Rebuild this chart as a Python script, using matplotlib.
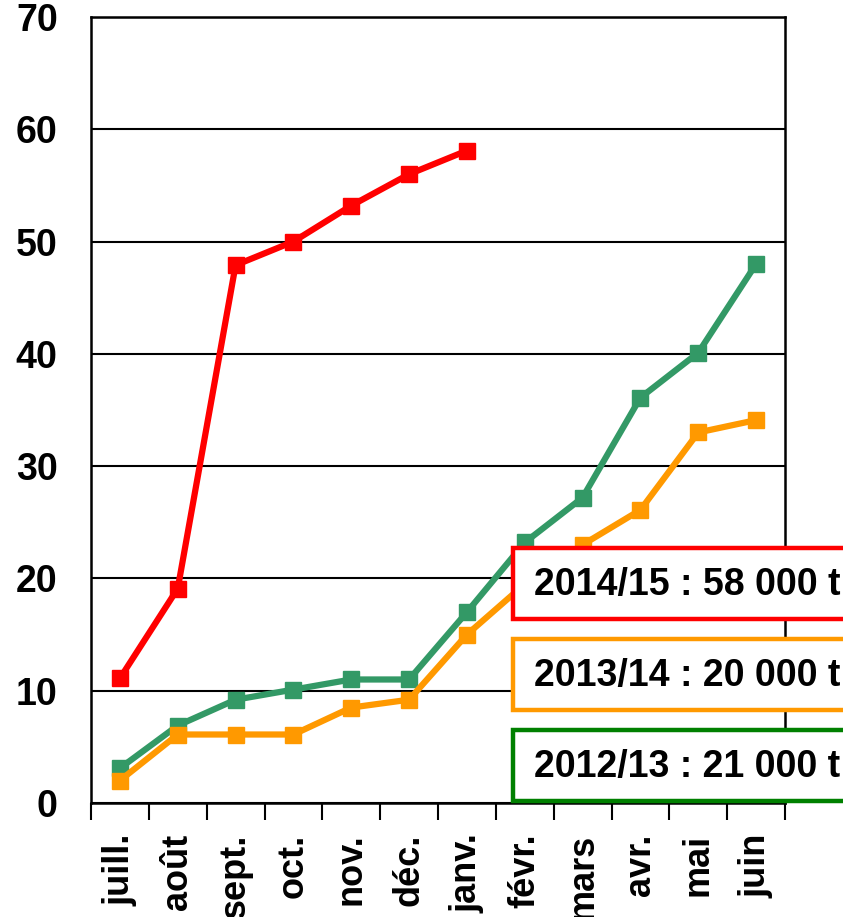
import matplotlib.pyplot as plt
from matplotlib.patches import Rectangle

plt.rcParams["font.family"] = ["Liberation Sans", "DejaVu Sans"]
plt.rcParams["font.weight"] = "bold"

MONTHS = ["juill.", "août", "sept.", "oct.", "nov.", "déc.", "janv.",
          "févr.", "mars", "avr.", "mai", "juin"]

SERIES_2014 = [11.1, 19.1, 47.9, 50.0, 53.2, 56.0, 58.1]
SERIES_2013 = [2.0, 6.1, 6.1, 6.1, 8.5, 9.2, 15.0, 19.5, 23.0, 26.1, 33.0, 34.1]
SERIES_2012 = [3.1, 6.9, 9.2, 10.1, 11.0, 11.0, 17.0, 23.2, 27.2, 36.1, 40.1, 48.0]

BOX_LABELS = ["2014/15 : 58 000 t", "2013/14 : 20 000 t", "2012/13 : 21 000 t"]
BOX_COLORS = ["#FF0000", "#FF9900", "#008000"]

W, H = 843, 917


def px_to_fig(x, y):
    return x / W, 1 - y / H


def main() -> None:
    fig = plt.figure(figsize=(W / 100, H / 100), dpi=100)
    left, top = px_to_fig(91, 17)
    right, bottom = px_to_fig(785, 803)
    ax = fig.add_axes([left, bottom, right - left, top - bottom])

    x_pos = list(range(len(MONTHS)))
    line_style = dict(linewidth=4.5, marker="s", markersize=11.5, solid_joinstyle="miter")
    ax.plot(x_pos, SERIES_2012, color="#339966", **line_style)
    ax.plot(x_pos, SERIES_2013, color="#FF9900", **line_style)
    ax.plot(x_pos[:len(SERIES_2014)], SERIES_2014, color="#FF0000", **line_style)

    ax.set_ylim(0, 70)
    ax.set_xlim(-0.5, len(MONTHS) - 0.5)
    ax.set_yticks(range(0, 71, 10))
    ax.set_yticklabels([str(v) for v in range(0, 71, 10)], fontsize=27, fontweight="bold")
    ax.tick_params(axis="y", length=0, pad=24)
    ax.yaxis.grid(True, color="black", linewidth=1.5)
    ax.set_axisbelow(True)

    # month labels between boundary ticks
    ax.set_xticks([i - 0.5 for i in range(len(MONTHS) + 1)])
    ax.set_xticklabels([])
    ax.tick_params(axis="x", which="major", length=12, width=1.5, direction="out")
    ax.set_xticks(x_pos, minor=True)
    ax.set_xticklabels(MONTHS, minor=True, rotation=90, fontsize=26,
                       fontweight="bold", va="top", ha="center")
    ax.tick_params(axis="x", which="minor", length=0, pad=22)

    for spine in ax.spines.values():
        spine.set_linewidth(1.8)
        spine.set_color("black")

    box_tops = [548, 639, 730]
    for label, color, y0 in zip(BOX_LABELS, BOX_COLORS, box_tops):
        bx, by = px_to_fig(513, y0 + 71)
        rect = Rectangle((bx, by), 400 / W, 71 / H, transform=fig.transFigure,
                         facecolor="white", edgecolor=color, linewidth=3.2,
                         clip_on=False, zorder=10)
        fig.add_artist(rect)
        tx, ty = px_to_fig(534, y0 + 37)
        fig.text(tx, ty, label, fontsize=27, fontweight="bold", va="center",
                 ha="left", zorder=11)

    fig.savefig("out.png", dpi=100)
    plt.close(fig)


if __name__ == "__main__":
    main()
